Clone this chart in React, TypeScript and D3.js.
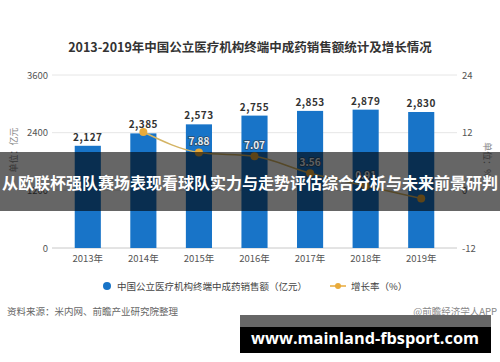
import React from 'react';
import * as d3 from 'd3';

const years = ['2013年', '2014年', '2015年', '2016年', '2017年', '2018年', '2019年'];
const sales = [2127, 2385, 2573, 2755, 2853, 2879, 2830];
const growth = [null, 12.13, 7.88, 7.07, 3.56, 0.91, -1.7];
const growthLabels = ['', '', '7.88', '7.07', '3.56', '0.91', ''];
const leftTicks = [0, 1200, 2400, 3600];
const rightTicks = [-12, 0, 12, 24];

const W = 500;
const H = 362;
const FONT = '"Noto Sans CJK SC", "Noto Sans", sans-serif';

function App() {
    const x = d3.scaleBand<string>()
        .domain(years)
        .range([60, 449])
        .paddingInner(0.53)
        .paddingOuter(0.265);

    const yL = d3.scaleLinear().domain([0, 3600]).range([248, 75]);
    const yR = d3.scaleLinear().domain([-12, 24]).range([248, 75]);

    const pts = years
        .map((yr, i) => ({ yr, v: growth[i], label: growthLabels[i] }))
        .filter((d) => d.v !== null) as { yr: string; v: number; label: string }[];

    const line = d3.line<{ yr: string; v: number }>()
        .x((d) => (x(d.yr) as number) + x.bandwidth() / 2)
        .y((d) => yR(d.v))
        .curve(d3.curveMonotoneX);

    return (
        <svg width={W} height={H} style={{ position: 'absolute', left: 0, top: 0, background: '#fff' }} fontFamily={FONT}>
            <rect width={W} height={H} fill="#fff" />

            {/* title */}
            <text x={250} y={52} textAnchor="middle" fontSize={12.5} fontWeight="bold" fill="#333">
                2013-2019年中国公立医疗机构终端中成药销售额统计及增长情况
            </text>

            {/* grid */}
            {leftTicks.map((t) => (
                <line key={t} x1={52} x2={457} y1={yL(t)} y2={yL(t)}
                    stroke={t === 0 ? '#c8c8c8' : '#e6e6e6'} strokeWidth={1} />
            ))}

            {/* left axis labels */}
            {leftTicks.map((t) => (
                <text key={t} x={48} y={yL(t) + 3.5} textAnchor="end" fontSize={9.5} fill="#555">{t}</text>
            ))}
            {/* right axis labels */}
            {rightTicks.map((t) => (
                <text key={t} x={462} y={yR(t) + 3.5} textAnchor="start" fontSize={9.5} fill="#555">{t}</text>
            ))}

            <text transform="translate(17,150) rotate(-90)" textAnchor="middle" fontSize={9} fill="#888">单位：亿元</text>
            <text transform="translate(484,160) rotate(90)" textAnchor="middle" fontSize={9} fill="#888">单位：%</text>

            {/* bars */}
            {years.map((yr, i) => (
                <g key={yr}>
                    <rect x={x(yr)} y={yL(sales[i])} width={x.bandwidth()} height={yL(0) - yL(sales[i])} fill="#1874c8" />
                    <text x={(x(yr) as number) + x.bandwidth() / 2} y={yL(sales[i]) - 5} textAnchor="middle"
                        fontSize={10} fontWeight="bold" fill="#333" letterSpacing={0.5}>
                        {d3.format(',')(sales[i])}
                    </text>
                    <text x={(x(yr) as number) + x.bandwidth() / 2} y={262} textAnchor="middle" fontSize={9.5} fill="#555">{yr}</text>
                </g>
            ))}

            {/* growth line */}
            <path d={line(pts) || ''} fill="none" stroke="#d4b464" strokeWidth={1.5} />
            {pts.map((d) => (
                <circle key={d.yr} cx={(x(d.yr) as number) + x.bandwidth() / 2} cy={yR(d.v)} r={4} fill="#e8aa3a" />
            ))}
            {pts.filter((d) => d.label).map((d) => (
                <text key={d.yr} x={(x(d.yr) as number) + x.bandwidth() / 2} y={yR(d.v) - 7} textAnchor="middle"
                    fontSize={10} fontWeight="bold" fill="#e6eef6" stroke="#2b4a66" strokeWidth={1.6}
                    style={{ paintOrder: 'stroke' }}>
                    {d.label}
                </text>
            ))}

            {/* legend */}
            <circle cx={107} cy={286} r={4} fill="#1874c8" />
            <text x={117} y={289.5} fontSize={9.5} fill="#444">中国公立医疗机构终端中成药销售额（亿元）</text>
            <line x1={330} x2={346} y1={286} y2={286} stroke="#e8aa3a" strokeWidth={1.5} />
            <circle cx={338} cy={286} r={3} fill="#e8aa3a" />
            <text x={351} y={289.5} fontSize={9.5} fill="#444">增长率（%）</text>

            {/* footer */}
            <text x={7} y={315} fontSize={9.5} fill="#666">资料来源：米内网、前瞻产业研究院整理</text>
            <text x={497} y={315} textAnchor="end" fontSize={9.5} fill="#888">@前瞻经济学人APP</text>

            {/* overlay banner */}
            <rect x={0} y={152} width={W} height={59} fill="rgba(0,0,0,0.6)" />
            <text x={250} y={189} textAnchor="middle" fontSize={16} fontWeight="bold" fill="#fff">
                从欧联杯强队赛场表现看球队实力与走势评估综合分析与未来前景研判
            </text>

            {/* site stamp */}
            <rect x={240} y={315} width={251} height={38} fill="#000" />
            <rect x={240} y={315} width={251} height={12} fill="#666" />
            <text x={251} y={344} fontSize={16} fontWeight="bold" fill="#fff" fontFamily="'Open Sans', sans-serif"
                textLength={228} lengthAdjust="spacingAndGlyphs">
                www.mainland-fbsport.com
            </text>
        </svg>
    );
}

export default App;
